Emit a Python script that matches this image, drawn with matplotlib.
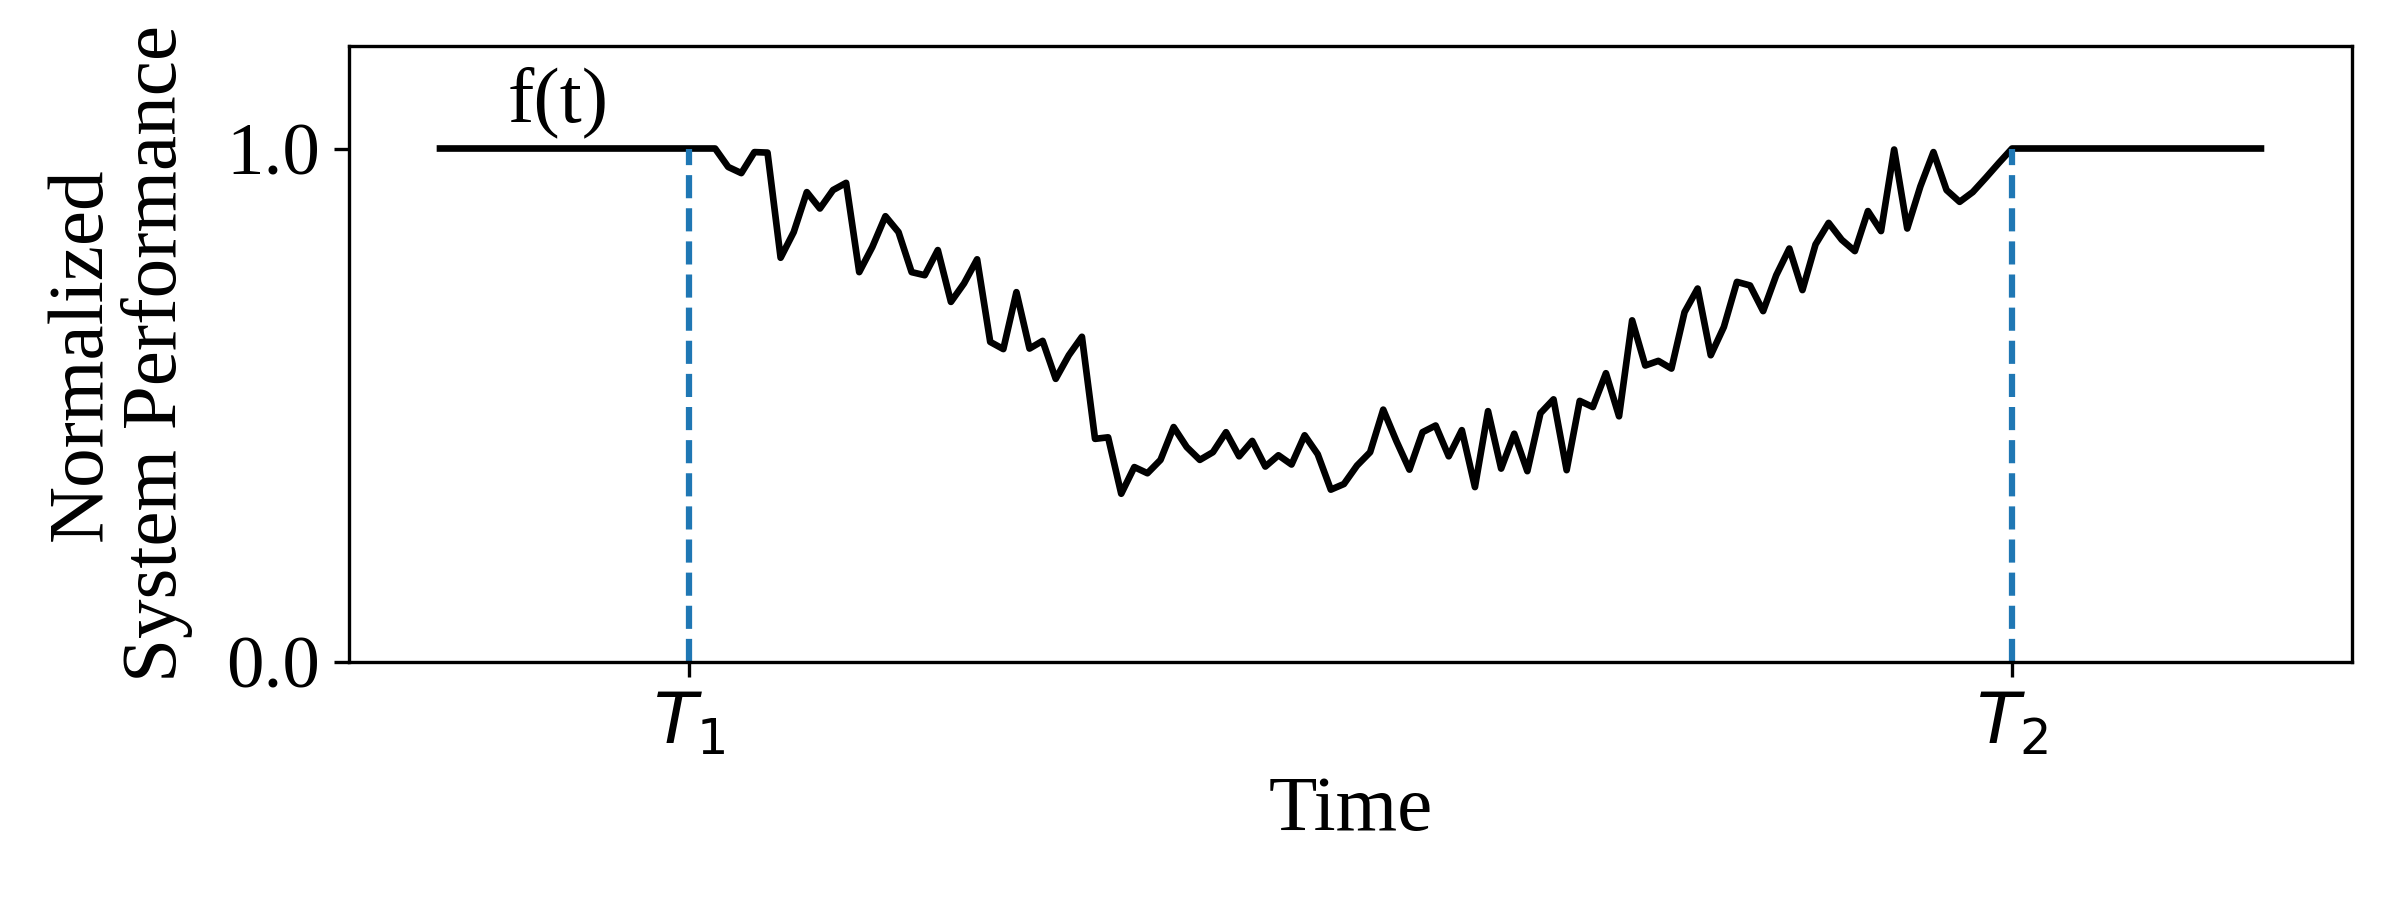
import numpy as np
import matplotlib
matplotlib.use("Agg")
import matplotlib.pyplot as plt

plt.rcParams['font.family'] = ['Liberation Serif', 'DejaVu Serif']

# time axis (integer steps) and the two event times
t_start = 0
t_end = 139
T1 = 19
T2 = 120
flat_until = 21  # performance still at 1.0 just after T1

# normalized performance between flat_until+1 and T2-1
degraded = [0.964, 0.952, 0.993, 0.992, 0.787, 0.837, 0.915, 0.883, 0.919, 0.933,
            0.759, 0.808, 0.868, 0.837, 0.759, 0.753, 0.802, 0.701, 0.737, 0.784,
            0.623, 0.609, 0.720, 0.610, 0.625, 0.551, 0.597, 0.633, 0.434, 0.437,
            0.327, 0.379, 0.367, 0.393, 0.457, 0.418, 0.393, 0.408, 0.447, 0.400,
            0.430, 0.380, 0.402, 0.384, 0.441, 0.404, 0.335, 0.346, 0.382, 0.408,
            0.491, 0.430, 0.374, 0.447, 0.460, 0.400, 0.451, 0.340, 0.488, 0.376,
            0.444, 0.371, 0.484, 0.511, 0.373, 0.508, 0.496, 0.562, 0.478, 0.665,
            0.577, 0.586, 0.571, 0.681, 0.727, 0.597, 0.652, 0.740, 0.733, 0.683,
            0.753, 0.805, 0.724, 0.813, 0.855, 0.822, 0.800, 0.878, 0.839, 0.998,
            0.844, 0.926, 0.993, 0.919, 0.896, 0.915, 0.943, 0.972]

yticks = [0.0, 1.0]
xtick_labels = [r'$T_1$', r'$T_2$']

t = np.arange(t_start, t_end + 1)
perf = np.concatenate([np.ones(flat_until - t_start + 1),
                       np.array(degraded),
                       np.ones(t_end - T2 + 1)])

fig, ax = plt.subplots(figsize=(8, 3), dpi=300)
fig.subplots_adjust(left=0.1454, right=0.980, top=0.949, bottom=0.265)
ax.plot(t, perf, color='black', lw=1.6)
ax.plot([T1, T1], [0, 1], '--', color='#1f77b4', lw=1.5)
ax.plot([T2, T2], [0, 1], '--', color='#1f77b4', lw=1.5)
ax.text(9, 1.09, 'f(t)', ha='center', va='center', fontsize=19)

ax.set_ylim(0, 1.2)
ax.set_yticks(yticks)
ax.set_yticklabels(['%.1f' % v for v in yticks], fontsize=18)
ax.set_xticks([T1, T2])
ax.set_xticklabels(xtick_labels, fontsize=17)
ax.set_xlabel('Time', fontsize=19)
ax.set_ylabel('Normalized\nSystem Performance', fontsize=19, linespacing=1.05,
              labelpad=8)

plt.savefig('out.png', dpi=300)
